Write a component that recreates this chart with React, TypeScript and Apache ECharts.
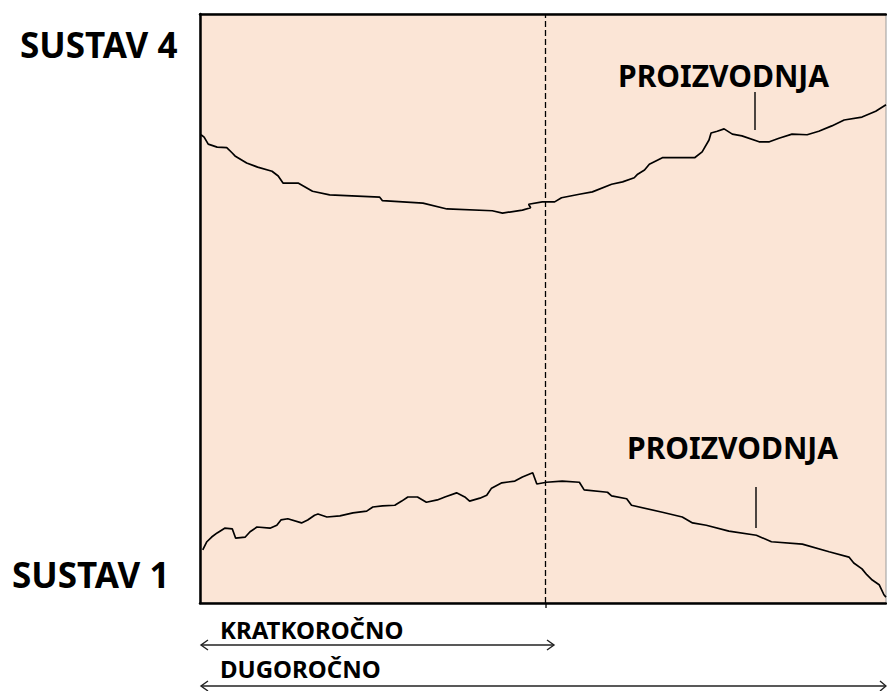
import React, { useEffect, useRef } from "react";
import * as echarts from "echarts";

// SUSTAV 4 – production curve (time 0–100, level 0–100)
const sustav4Time = [0.15, 0.6, 1.2, 2.5, 3.9, 4.7, 5.1, 6.8, 8.4, 10.5, 11.4, 12.1, 14.3, 16.4, 18.9, 26.2, 26.6, 32.5, 36.0, 42.6, 44.1, 47.0, 48.2, 47.9, 49.9, 51.7, 52.7, 55.3, 57.2, 60.0, 61.6, 63.3, 63.8, 64.8, 65.5, 67.4, 72.1, 73.2, 74.2, 74.5, 75.4, 76.4, 77.6, 79.0, 81.5, 83.0, 84.4, 86.3, 88.5, 90.2, 92.1, 93.9, 96.5, 98.5, 100];
const sustav4Level = [79.5, 79.1, 77.9, 77.4, 77.3, 76.4, 75.9, 74.7, 74.0, 73.3, 72.5, 71.3, 71.3, 69.9, 69.3, 68.9, 68.3, 67.9, 66.9, 66.6, 66.2, 66.7, 67.1, 67.7, 68.1, 68.1, 68.8, 69.4, 69.8, 71.1, 71.5, 72.2, 72.8, 73.5, 74.5, 75.6, 75.6, 76.6, 78.6, 79.8, 80.1, 80.5, 79.6, 79.3, 78.3, 78.3, 78.9, 79.6, 79.5, 80.1, 81.0, 82.0, 82.5, 83.5, 84.6];

// SUSTAV 1 – production curve
const sustav1Time = [0.4, 1.0, 1.7, 2.5, 3.6, 4.7, 5.2, 6.6, 7.3, 8.3, 10.2, 11.2, 11.8, 12.8, 14.8, 15.7, 16.7, 17.2, 18.5, 20.4, 22.3, 24.3, 25.2, 26.6, 28.4, 29.4, 30.3, 31.7, 33.0, 34.6, 35.7, 37.4, 38.6, 39.3, 40.8, 41.8, 42.5, 44.0, 45.9, 47.0, 48.5, 49.1, 50.5, 52.8, 55.3, 56.0, 59.4, 60.0, 62.2, 62.9, 67.4, 70.3, 71.8, 73.8, 77.1, 81.1, 83.3, 87.8, 91.7, 94.6, 95.3, 96.5, 97.2, 98.0, 99.0, 99.7, 100];
const sustav1Level = [9.0, 10.4, 11.2, 11.9, 12.7, 12.6, 11.0, 11.2, 12.1, 12.9, 12.7, 13.2, 14.1, 14.3, 13.6, 14.1, 14.9, 15.1, 14.6, 14.8, 15.3, 15.6, 16.3, 16.5, 16.6, 17.3, 18.0, 18.0, 17.1, 17.5, 18.0, 18.7, 18.0, 17.3, 17.8, 18.3, 19.5, 20.4, 20.7, 21.4, 22.1, 20.2, 20.5, 20.7, 20.5, 19.2, 18.8, 18.2, 17.7, 16.6, 15.4, 14.6, 13.6, 13.2, 12.2, 11.5, 10.4, 10.0, 8.7, 7.8, 6.8, 5.8, 4.8, 3.9, 3.1, 1.4, 1.0];

const rowLabels = ["SUSTAV 4", "SUSTAV 1"];
const curveLabel = "PROIZVODNJA";
const horizonLabels = ["KRATKOROČNO", "DUGOROČNO"];
const shortTermEnd = [50.4];

const zip = (xs: number[], ys: number[]) => xs.map((x, i) => [x, ys[i]]);

export default function App() {
  const ref = useRef<HTMLDivElement>(null);
  useEffect(() => {
    const chart = echarts.init(ref.current!, null, { renderer: "svg" });
    const axisCommon = {
      type: "value",
      min: 0,
      max: 100,
      axisLine: { show: true, onZero: false, lineStyle: { color: "#000", width: 2.5 } },
      axisTick: { show: false },
      axisLabel: { show: false },
      splitLine: { show: false },
    };
    const FONT = "'Noto Sans', 'Open Sans', sans-serif";
    const txt = (text: string, x: number, y: number, size: number) => ({
      type: "text",
      x,
      y,
      silent: true,
      z: 10,
      style: {
        text,
        fontSize: size,
        fontFamily: FONT,
        fontWeight: "bold",
        fill: "#000",
        align: "left",
        verticalAlign: "middle",
      },
    });
    const ln = (x1: number, y1: number, x2: number, y2: number, w = 1.4, c = "#000") => ({
      type: "line",
      silent: true,
      shape: { x1, y1, x2, y2 },
      style: { stroke: c, lineWidth: w },
    });
    const chev = (pts: number[][]) => ({
      type: "polyline",
      silent: true,
      shape: { points: pts },
      style: { stroke: "#222", lineWidth: 1.4, fill: null },
    });
    chart.setOption({
      animation: false,
      backgroundColor: "#ffffff",
      grid: {
        left: 200,
        top: 14,
        right: 1,
        bottom: 88,
        show: true,
        backgroundColor: "#FBE5D6",
        borderColor: "#9a9a9a",
        borderWidth: 1,
      },
      xAxis: [
        { ...axisCommon },
        { ...axisCommon, position: "top" },
      ],
      yAxis: { ...axisCommon },
      series: [
        {
          type: "line",
          name: rowLabels[0],
          data: zip(sustav4Time, sustav4Level),
          symbol: "none",
          silent: true,
          lineStyle: { color: "#000", width: 1.7 },
          markLine: {
            silent: true,
            symbol: ["none", "none"],
            label: { show: false },
            lineStyle: { color: "#000", width: 1.3, type: [6, 3] },
            data: [{ xAxis: shortTermEnd[0] }],
          },
        },
        {
          type: "line",
          name: rowLabels[1],
          data: zip(sustav1Time, sustav1Level),
          symbol: "none",
          silent: true,
          lineStyle: { color: "#000", width: 1.7 },
        },
      ],
      graphic: [
        txt(rowLabels[0], 20, 44, 35),
        txt(rowLabels[1], 12, 574, 35),
        txt(curveLabel, 618, 75, 30),
        txt(curveLabel, 627, 447, 30),
        ln(755, 92, 755, 130),
        ln(756, 487, 756, 528),
        ln(546, 604, 546, 608, 1.3, "#000"),
        txt(horizonLabels[0], 220, 629, 24),
        txt(horizonLabels[1], 220, 668, 24),
        ln(201, 645, 554, 645, 1.4, "#222"),
        chev([[208, 640], [201, 645], [208, 650]]),
        chev([[547, 640], [554, 645], [547, 650]]),
        ln(201, 686, 886, 686, 1.4, "#222"),
        chev([[208, 681], [201, 686], [208, 691]]),
        chev([[880, 681], [886, 686], [880, 691]]),
      ],
    });
    return () => chart.dispose();
  }, []);
  return (
    <div
      ref={ref}
      style={{ position: "fixed", left: 0, top: 0, width: 887, height: 691 }}
    />
  );
}
